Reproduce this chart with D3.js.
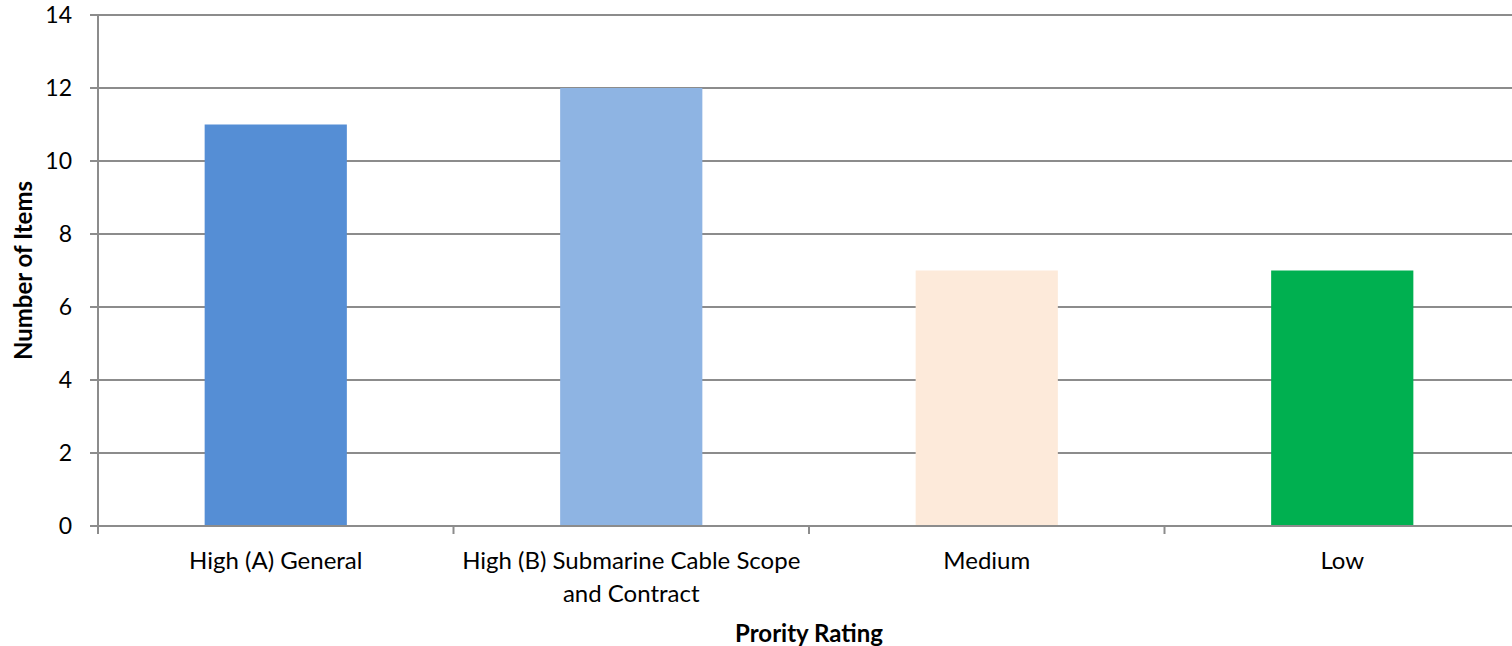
<!DOCTYPE html>
<html>
<head>
<meta charset="utf-8">
<script src="https://cdn.jsdelivr.net/npm/d3@7"></script>
<style>
	body { margin: 0; background: #fff; }
	text { font-family: Lato, "Open Sans", sans-serif; fill: #000; }
</style>
</head>
<body>
<script>
// chart data
var categories = ["High (A) General", "High (B) Submarine Cable Scope and Contract", "Medium", "Low"];
var tickLines = [["High (A) General"], ["High (B) Submarine Cable Scope", "and Contract"], ["Medium"], ["Low"]];
var counts = [11, 12, 7, 7];
var barColors = ["#558ed5", "#8eb4e3", "#fdeada", "#00b050"];
var yTicks = [0, 2, 4, 6, 8, 10, 12, 14];

var W = 1512, H = 646;
var margin = {top: 15, left: 98, bottom: 120};
var plotW = 1422, plotH = H - margin.top - margin.bottom;

var svg = d3.select("body").append("svg")
	.attr("width", W)
	.attr("height", H);

var g = svg.append("g")
	.attr("transform", "translate(" + margin.left + "," + margin.top + ")");

var x = d3.scaleBand().domain(categories).range([0, plotW]).paddingInner(0.6).paddingOuter(0.3);
var xTickScale = d3.scaleBand().domain(categories).range([0, plotW]);
var y = d3.scaleLinear().domain([0, 14]).range([plotH, 0]);

// gridlines
g.selectAll(".grid")
	.data(yTicks)
	.enter().append("line")
	.attr("x1", -8)
	.attr("x2", plotW)
	.attr("y1", function(d) { return y(d); })
	.attr("y2", function(d) { return y(d); })
	.attr("stroke", "#8c8c8c")
	.attr("stroke-width", 2);

// bars
g.selectAll(".bar")
	.data(counts)
	.enter().append("rect")
	.attr("x", function(d, i) { return x(categories[i]); })
	.attr("y", function(d) { return y(d); })
	.attr("width", x.bandwidth())
	.attr("height", function(d) { return plotH - y(d); })
	.attr("fill", function(d, i) { return barColors[i]; });

// y axis line
g.append("line")
	.attr("x1", 0).attr("x2", 0)
	.attr("y1", 0).attr("y2", plotH + 8)
	.attr("stroke", "#8c8c8c")
	.attr("stroke-width", 2);

// x axis baseline redraw over bars
g.append("line")
	.attr("x1", 0).attr("x2", plotW)
	.attr("y1", plotH).attr("y2", plotH)
	.attr("stroke", "#8c8c8c")
	.attr("stroke-width", 2);

// category separators
g.selectAll(".xtick")
	.data(categories.slice(1))
	.enter().append("line")
	.attr("x1", function(d) { return xTickScale(d); })
	.attr("x2", function(d) { return xTickScale(d); })
	.attr("y1", plotH)
	.attr("y2", plotH + 8)
	.attr("stroke", "#8c8c8c")
	.attr("stroke-width", 2);

// y tick labels
g.selectAll(".ylabel")
	.data(yTicks)
	.enter().append("text")
	.attr("x", -26)
	.attr("y", function(d) { return y(d); })
	.attr("dy", "0.35em")
	.attr("text-anchor", "end")
	.attr("font-size", 23)
	.text(function(d) { return d; });

// x tick labels
var xl = g.selectAll(".xlabel")
	.data(categories)
	.enter().append("text")
	.attr("text-anchor", "middle")
	.attr("font-size", 24)
	.attr("transform", function(d) {
		return "translate(" + (xTickScale(d) + xTickScale.bandwidth() / 2) + "," + (plotH + 43) + ")";
	});
xl.each(function(d, i) {
	var t = d3.select(this);
	tickLines[i].forEach(function(line, j) {
		t.append("tspan").attr("x", 0).attr("y", j * 33).text(line);
	});
});

// axis titles
svg.append("text")
	.attr("transform", "translate(" + 32 + "," + (margin.top + plotH / 2) + ") rotate(-90)")
	.attr("text-anchor", "middle")
	.attr("font-size", 24)
	.attr("font-weight", "bold")
	.text("Number of Items");

svg.append("text")
	.attr("x", 809)
	.attr("y", 642)
	.attr("text-anchor", "middle")
	.attr("font-size", 24)
	.attr("font-weight", "bold")
	.text("Prority Rating");
</script>
</body>
</html>
